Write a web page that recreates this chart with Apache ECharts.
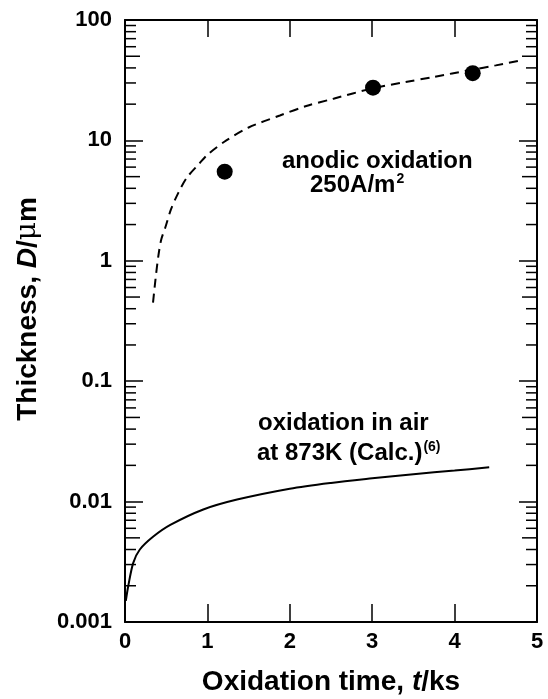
<!DOCTYPE html>
<html>
<head>
<meta charset="utf-8">
<script src="https://cdn.jsdelivr.net/npm/echarts@6/dist/echarts.min.js"></script>
<style>
  html, body { margin: 0; padding: 0; background: #fff; }
  #chart { width: 548px; height: 699px; }
</style>
</head>
<body>
<div id="chart"></div>
<script>
// values
const anodicDots = [[1.21, 5.5], [3.01, 27.4], [4.22, 36.2]];
const anodicCurve = [
  [0.34, 0.45], [0.37, 0.7], [0.405, 1.1], [0.44, 1.5], [0.49, 1.9], [0.56, 2.7],
  [0.65, 3.7], [0.75, 4.9], [0.9, 6.4], [1.0, 7.6], [1.23, 10.0], [1.5, 12.8],
  [1.88, 16.1], [2.2, 19.3], [2.53, 22.2], [3.0, 27.0], [3.4, 30.5],
  [3.74, 33.6], [4.2, 38.5], [4.5, 42], [4.79, 46]
];
const airCurve = [
  [0.01, 0.0015], [0.04, 0.0020], [0.1, 0.0031], [0.18, 0.0040], [0.34, 0.0051],
  [0.55, 0.0064], [0.95, 0.0086], [1.36, 0.0104], [2.0, 0.0128], [2.5, 0.0143],
  [3.0, 0.0156], [3.5, 0.0169], [4.0, 0.0181], [4.42, 0.0193]
];
const xMin = 0, xMax = 5;
const yMin = 0.001, yMax = 100;
const yTickLabels = ['0.001', '0.01', '0.1', '1', '10', '100'];
const decades = [0.001, 0.01, 0.1, 1, 10];
const minorSteps = [2, 3, 4, 5, 6, 7, 8, 9];

const FONT = '"Liberation Sans", Arial, Helvetica, sans-serif';

// minor ticks of the log axes, both sides
const minorTicks = [];
[xMin, xMax].forEach(function (side) {
  decades.forEach(function (d) {
    minorSteps.forEach(function (m) {
      minorTicks.push([side, d * m, m]);
    });
  });
});

const chart = echarts.init(document.getElementById('chart'));

const axisLine = { show: true, onZero: false, lineStyle: { color: '#000', width: 2 } };
const tickLabel = { color: '#000', fontSize: 22, fontWeight: 'bold', fontFamily: FONT };
const titleRich = {
  n: { fontSize: 28, fontWeight: 'bold', fontFamily: FONT, color: '#000' },
  i: { fontSize: 28, fontWeight: 'bold', fontStyle: 'italic', fontFamily: FONT, color: '#000' },
  u: { fontSize: 28, fontFamily: '"DejaVu Serif", serif', color: '#000' }
};
const noteRich = {
  n: { font: 'bold 24px ' + FONT, fill: '#000' },
  s: { font: 'bold 14px ' + FONT, fill: '#000', verticalAlign: 'top', padding: [0, 0, 12, 1] }
};

chart.setOption({
  animation: false,
  backgroundColor: '#fff',
  grid: { left: 125, right: 11, top: 20, bottom: 77, containLabel: false, outerBoundsMode: 'none' },
  xAxis: [{
    type: 'value', min: xMin, max: xMax, interval: 1,
    axisLine: axisLine,
    axisTick: { inside: true, length: 18, lineStyle: { color: '#000', width: 1.5 } },
    axisLabel: Object.assign({ margin: 9 }, tickLabel),
    splitLine: { show: false },
    name: '{n|Oxidation time, }{i|t}{n|/ks}',
    nameLocation: 'middle', nameGap: 46,
    nameTextStyle: { rich: titleRich }
  }, {
    type: 'value', min: xMin, max: xMax, interval: 1, position: 'top',
    axisLine: axisLine,
    axisTick: { inside: true, length: 17, lineStyle: { color: '#000', width: 1.5 } },
    axisLabel: { show: false },
    splitLine: { show: false }
  }],
  yAxis: [{
    type: 'log', logBase: 10, min: yMin, max: yMax, interval: 1,
    axisLine: axisLine,
    axisTick: { inside: true, length: 18, lineStyle: { color: '#000', width: 1.5 } },
    axisLabel: Object.assign({
      margin: 13,
      formatter: function (v) { return yTickLabels[Math.round(Math.log10(v)) + 3]; }
    }, tickLabel),
    splitLine: { show: false },
    name: '{n|Thickness, }{i|D}{n|/}{u|μ}{n|m}',
    nameLocation: 'middle', nameGap: 83, nameRotate: 90,
    nameTextStyle: { rich: titleRich, padding: [0, 0, 0, 24] }
  }, {
    type: 'log', logBase: 10, min: yMin, max: yMax, interval: 1, position: 'right',
    axisLine: axisLine,
    axisTick: { inside: true, length: 18, lineStyle: { color: '#000', width: 1.5 } },
    axisLabel: { show: false },
    splitLine: { show: false }
  }],
  graphic: [{
    type: 'text', left: 282, top: 149,
    style: { text: '{n|anodic oxidation}', rich: noteRich }
  }, {
    type: 'text', left: 310, top: 172,
    style: { text: '{n|250A/m}{s|2}', rich: noteRich }
  }, {
    type: 'text', left: 258, top: 411,
    style: { text: '{n|oxidation in air}', rich: noteRich }
  }, {
    type: 'text', left: 257, top: 440,
    style: { text: '{n|at 873K (Calc.)}{s|(6)}', rich: noteRich }
  }],
  series: [{
    type: 'line', data: anodicCurve, smooth: 0.3, showSymbol: false,
    lineStyle: { color: '#000', width: 2, type: [9, 6] }
  }, {
    type: 'line', data: airCurve, smooth: 0.3, showSymbol: false,
    lineStyle: { color: '#000', width: 2 }
  }, {
    type: 'scatter', data: anodicDots, symbol: 'circle', symbolSize: 16,
    itemStyle: { color: '#000', opacity: 1 }
  }, {
    type: 'custom', data: minorTicks, clip: false, silent: true,
    encode: { x: 0, y: 1 },
    renderItem: function (params, api) {
      const side = api.value(0);
      const p = api.coord([side, api.value(1)]);
      const len = api.value(2) === 5 ? 15 : 11;
      const dir = side === xMin ? 1 : -1;
      return {
        type: 'line',
        shape: { x1: p[0], y1: p[1], x2: p[0] + dir * len, y2: p[1] },
        style: { stroke: '#000', lineWidth: 1.5 }
      };
    }
  }]
});
</script>
</body>
</html>
